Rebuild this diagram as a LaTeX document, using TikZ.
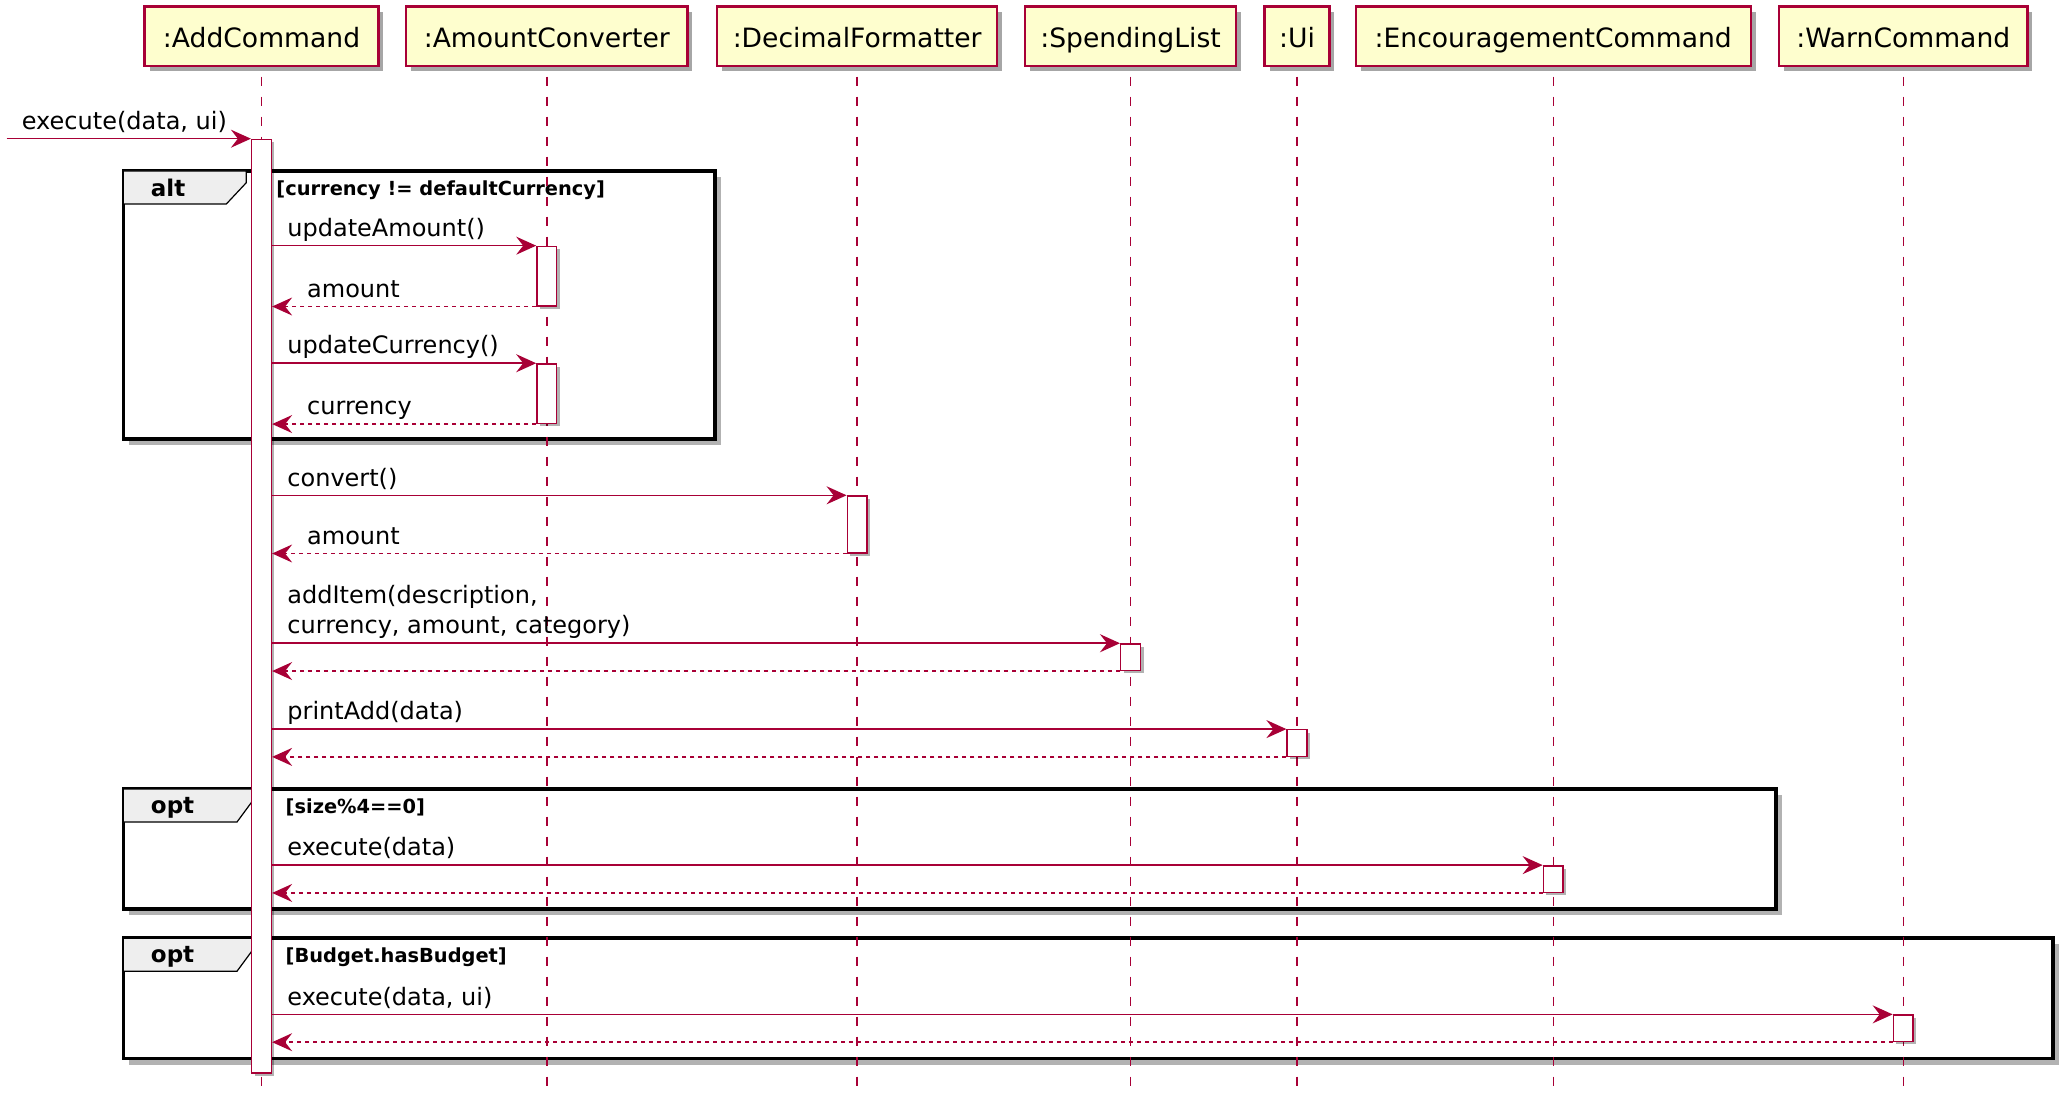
\documentclass[tikz,border=0pt]{standalone}
\usepackage{fontspec}
\setmainfont{DejaVu Sans}
\usetikzlibrary{arrows.meta,shadows}
\definecolor{umlred}{HTML}{A80036}
\definecolor{umlfill}{HTML}{FEFECE}
\definecolor{tabgray}{HTML}{EEEEEE}
\newcommand{\px}{0.6604pt}
\begin{document}
\begin{tikzpicture}[
        x=0.6604pt, y=-0.6604pt,
        participant/.style={draw=umlred, fill=umlfill, line width=1.2pt, minimum height=45*\px, inner sep=0pt,
            text height=12pt, text depth=0.5pt, font=\fontsize{13.3}{16}\selectfont,
            drop shadow={shadow xshift=2.5pt, shadow yshift=-2.5pt, opacity=0.35, fill=black}},
        lifeline/.style={draw=umlred, line width=0.75pt, dash pattern=on 4.5pt off 5.5pt},
        actbar/.style={draw=umlred, fill=white, line width=0.7pt, minimum width=15*\px, inner sep=0pt, anchor=north,
            drop shadow={shadow xshift=1.5pt, shadow yshift=-1.5pt, opacity=0.3, fill=black}},
        msg/.style={color=umlred, line width=0.75pt, -{Stealth[length=10pt, width=9pt, inset=3.5pt]}},
        ret/.style={msg, dash pattern=on 2pt off 2pt},
        lbl/.style={anchor=base west, inner sep=0pt, yshift=7*\px, text=black, font=\fontsize{12}{15}\selectfont},
        msglbl/.style={lbl, pos=0, xshift=11*\px},
        retlbl/.style={lbl, pos=1, xshift=26*\px},
        frame/.style={draw=black, fill=white, line width=1.9pt, inner sep=0pt, anchor=north west,
            drop shadow={shadow xshift=3pt, shadow yshift=-3pt, opacity=0.3, fill=black}},
        tab/.style={draw=black, fill=tabgray, line width=0.6pt},
        fraglbl/.style={anchor=base west, inner sep=0pt, font=\bfseries\fontsize{11.5}{13}\selectfont},
        cond/.style={anchor=base west, inner sep=0pt, font=\bfseries\fontsize{9.7}{12}\selectfont}
    ]
    \useasboundingbox (0,0) rectangle (1568,843);
    \fill[white] (0,0) rectangle (1568,843);

    % fragments
    \node[frame, minimum width=448*\px, minimum height=203*\px] (fAlt) at (92,128) {};
    \node[frame, minimum width=1251*\px, minimum height=91*\px] (fOpt1) at (92,596) {};
    \node[frame, minimum width=1461*\px, minimum height=91*\px] (fOpt2) at (92,709) {};
    \draw[tab] ([shift={(1.4,1.4)}]fAlt.north west) -- ++(93,0) -- ++(0,9) -- ++(-15,16) -- ++(-78,0) -- cycle;
    \draw[tab] ([shift={(1.4,1.4)}]fOpt1.north west) -- ++(100,0) -- ++(0,6) -- ++(-14,19) -- ++(-86,0) -- cycle;
    \draw[tab] ([shift={(1.4,1.4)}]fOpt2.north west) -- ++(100,0) -- ++(0,6) -- ++(-14,19) -- ++(-86,0) -- cycle;
    \node[fraglbl] (lAlt) at ([shift={(22,21)}]fAlt.north west) {alt};
    \node[cond] (cAlt) at ([shift={(117,20)}]fAlt.north west) {[currency != defaultCurrency]};
    \node[fraglbl] (lOpt1) at ([shift={(22,20)}]fOpt1.north west) {opt};
    \node[cond] (cOpt1) at ([shift={(124,20)}]fOpt1.north west) {[size\%4==0]};
    \node[fraglbl] (lOpt2) at ([shift={(22,20)}]fOpt2.north west) {opt};
    \node[cond] (cOpt2) at ([shift={(124,20)}]fOpt2.north west) {[Budget.hasBudget]};

    % participants
    \node[participant, minimum width=177*\px] (pAdd) at (198,27.5) {:AddCommand};
    \node[participant, minimum width=213*\px] (pAmt) at (414,27.5) {:AmountConverter};
    \node[participant, minimum width=212*\px] (pDec) at (649,27.5) {:DecimalFormatter};
    \node[participant, minimum width=160*\px] (pSpl) at (856,27.5) {:SpendingList};
    \node[participant, minimum width=49*\px] (pUi) at (982,27.5) {:Ui};
    \node[participant, minimum width=299*\px] (pEnc) at (1176,27.5) {:EncouragementCommand};
    \node[participant, minimum width=188*\px] (pWarn) at (1441,27.5) {:WarnCommand};

    \coordinate (lifeTop) at (0,58);
    \coordinate (lifeBot) at (0,822);
    \foreach \p in {pAdd,pAmt,pDec,pSpl,pUi,pEnc,pWarn}
    \draw[lifeline] (\p |- lifeTop) -- (\p |- lifeBot);

    % activations
    \node[actbar, minimum height=707*\px] (aAdd) at (198,105) {};
    \node[actbar, minimum height=45*\px] (aAmt1) at (414,186) {};
    \node[actbar, minimum height=45*\px] (aAmt2) at (414,275) {};
    \node[actbar, minimum height=43*\px] (aDec) at (649,375) {};
    \node[actbar, minimum height=20*\px] (aSpl) at (856,487) {};
    \node[actbar, minimum height=20*\px] (aUi) at (982,552) {};
    \node[actbar, minimum height=20*\px] (aEnc) at (1176,655) {};
    \node[actbar, minimum height=20*\px] (aWarn) at (1441,768) {};

    % messages
    \coordinate (entry) at (5,105);
    \draw[msg] (entry) -- node[msglbl] (mExec) {execute(data, ui)} (aAdd.north west);
    \draw[msg] (aAdd.east |- aAmt1.north) -- node[msglbl] (mUpdAmt) {updateAmount()} (aAmt1.north west);
    \draw[ret] (aAmt1.south west) -- node[retlbl] (rAmt1) {amount} (aAdd.east |- aAmt1.south);
    \draw[msg] (aAdd.east |- aAmt2.north) -- node[msglbl] (mUpdCur) {updateCurrency()} (aAmt2.north west);
    \draw[ret] (aAmt2.south west) -- node[retlbl] (rCur) {currency} (aAdd.east |- aAmt2.south);
    \draw[msg] (aAdd.east |- aDec.north) -- node[msglbl] (mConv) {convert()} (aDec.north west);
    \draw[ret] (aDec.south west) -- node[retlbl] (rAmt2) {amount} (aAdd.east |- aDec.south);
    \draw[msg] (aAdd.east |- aSpl.north) -- node[msglbl, align=left] (mAdd) {addItem(description,\\currency, amount, category)} (aSpl.north west);
    \draw[ret] (aSpl.south west) -- (aAdd.east |- aSpl.south);
    \draw[msg] (aAdd.east |- aUi.north) -- node[msglbl] (mPrint) {printAdd(data)} (aUi.north west);
    \draw[ret] (aUi.south west) -- (aAdd.east |- aUi.south);
    \draw[msg] (aAdd.east |- aEnc.north) -- node[msglbl] (mEnc) {execute(data)} (aEnc.north west);
    \draw[ret] (aEnc.south west) -- (aAdd.east |- aEnc.south);
    \draw[msg] (aAdd.east |- aWarn.north) -- node[msglbl] (mWarn) {execute(data, ui)} (aWarn.north west);
    \draw[ret] (aWarn.south west) -- (aAdd.east |- aWarn.south);
\end{tikzpicture}
\end{document}
